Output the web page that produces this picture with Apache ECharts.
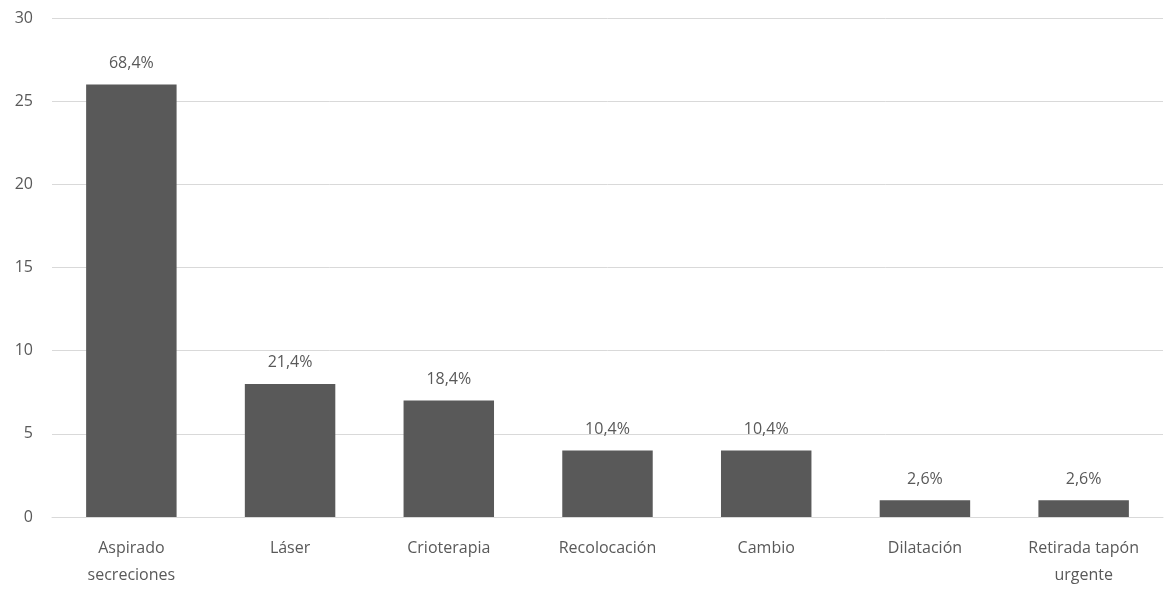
<!DOCTYPE html>
<html><head><meta charset="utf-8">
<script src="https://cdn.jsdelivr.net/npm/echarts@6/dist/echarts.min.js"></script>
<style>html,body{margin:0;padding:0;background:#fff}#c{width:1165px;height:589px}</style>
</head><body><div id="c"></div>
<script>
const categories = ['Aspirado\nsecreciones', 'Láser', 'Crioterapia', 'Recolocación', 'Cambio', 'Dilatación', 'Retirada tapón\nurgente'];
const values = [26, 8, 7, 4, 4, 1, 1];
const percentLabels = ['68,4%', '21,4%', '18,4%', '10,4%', '10,4%', '2,6%', '2,6%'];
const yTicks = { min: 0, max: 30, interval: 5 };

const FONT = '"Open Sans", Lato, sans-serif';
const chart = echarts.init(document.getElementById('c'), null, { renderer: 'canvas' });
chart.setOption({
  animation: false,
  backgroundColor: '#fff',
  grid: { left: 52, right: 2, top: 18, bottom: 69, containLabel: false },
  xAxis: {
    type: 'category',
    data: categories,
    axisLine: { show: true, lineStyle: { color: '#d9d9d9', width: 1 } },
    axisTick: { show: false },
    axisLabel: { color: '#595959', fontFamily: FONT, fontSize: 16, margin: 18, lineHeight: 27, interval: 0 }
  },
  yAxis: {
    type: 'value',
    min: yTicks.min, max: yTicks.max, interval: yTicks.interval,
    axisLine: { show: false },
    axisTick: { show: false },
    splitLine: { lineStyle: { color: '#d9d9d9', width: 1 } },
    axisLabel: { color: '#595959', fontFamily: FONT, fontSize: 16, margin: 19 }
  },
  series: [{
    type: 'bar',
    data: values,
    barWidth: '57%',
    itemStyle: { color: '#595959' },
    label: {
      show: true, position: 'top', distance: 13,
      color: '#595959', fontFamily: FONT, fontSize: 16,
      formatter: p => percentLabels[p.dataIndex]
    }
  }]
});
</script></body></html>
